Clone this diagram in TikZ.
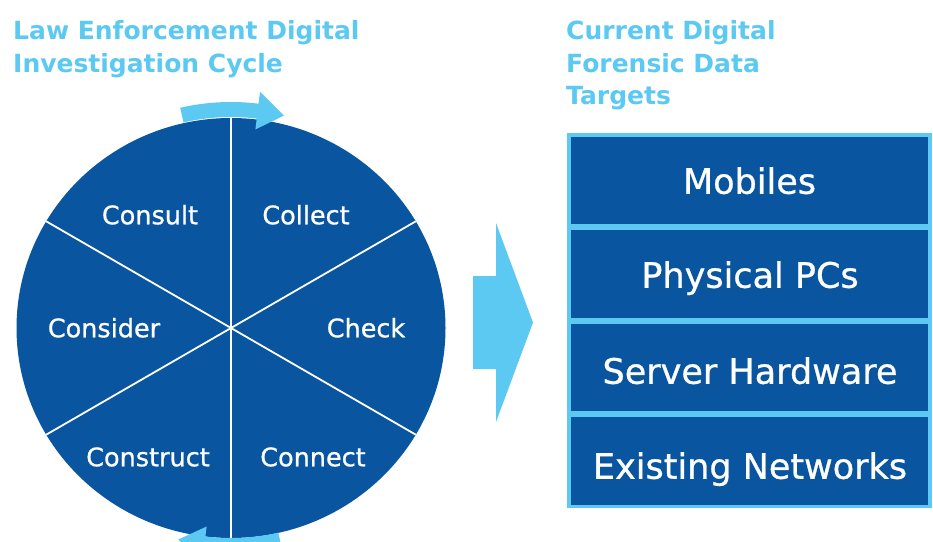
\documentclass[tikz,border=0pt]{standalone}
\usepackage{fontspec}
\setmainfont{DejaVu Sans}
\newfontfamily\medfont[FakeBold=0.8]{DejaVu Sans}
\usetikzlibrary{shapes.geometric}
\definecolor{db}{HTML}{0A55A0}
\definecolor{lb}{HTML}{5CC9F2}
\tikzset{
  titletxt/.style={text=lb, font=\fontsize{25}{30}\selectfont\bfseries, inner sep=0pt, anchor=base west},
  cyclbl/.style={text=white, font=\medfont\fontsize{25.5}{30}\selectfont, inner sep=0pt, text height=18.5pt, text depth=0pt},
  boxlbl/.style={text=white, font=\medfont\fontsize{35}{40}\selectfont, inner sep=0pt, text height=25.5pt, text depth=0pt},
  rowbox/.style={fill=db, inner sep=0pt, outer sep=0pt, minimum width=357pt, minimum height=87.5pt},
  divider/.style={white, line width=1.8pt},
  cycarrow/.style={fill=lb}
}
\begin{document}
\begin{tikzpicture}[x=1pt,y=1pt]
\useasboundingbox (0,0) rectangle (933,-541);
\begin{scope}
\clip (0,0) rectangle (933,-541);
% titles
\node[titletxt] (t1a) at (13,-39) {Law Enforcement Digital};
\node[titletxt] (t1b) at (13,-72) {Investigation Cycle};
\node[titletxt] (t2a) at (566,-39) {Current Digital};
\node[titletxt] (t2b) at (566,-72) {Forensic Data};
\node[titletxt] (t2c) at (566,-104) {Targets};
% cycle
\node[ellipse, fill=db, inner sep=0pt, outer sep=0pt, minimum width=429pt, minimum height=420pt] (cyc) at (231,-328) {};
\foreach \a in {90,30,-30,-90,-150,150}
  \draw[divider] (cyc.center) -- (cyc.\a);
% cycle arrows
\fill[cycarrow] ([shift={(cyc.center)}]103:226pt) arc[start angle=103, end angle=83, radius=226pt]
  -- ([shift={(cyc.center)}]83:238pt) -- ([shift={(cyc.center)}]76:219pt)
  -- ([shift={(cyc.center)}]83:200pt) -- ([shift={(cyc.center)}]83:211pt)
  arc[start angle=83, end angle=103, radius=211pt] -- cycle;
\fill[cycarrow] ([shift={(cyc.center)}]-77:225pt) arc[start angle=-77, end angle=-97, radius=225pt]
  -- ([shift={(cyc.center)}]-97:237pt) -- ([shift={(cyc.center)}]-104:218pt)
  -- ([shift={(cyc.center)}]-97:200pt) -- ([shift={(cyc.center)}]-97:210pt)
  arc[start angle=-97, end angle=-77, radius=210pt] -- cycle;
% cycle labels
\node[cyclbl] (consult) at (150,-215) {Consult};
\node[cyclbl] (collect) at (306,-215) {Collect};
\node[cyclbl] (consider) at (104,-328) {Consider};
\node[cyclbl] (check) at (366,-328) {Check};
\node[cyclbl] (construct) at (148,-457) {Construct};
\node[cyclbl] (connect) at (313,-457) {Connect};
% big arrow
\fill[lb] (473,-276) -- (496,-276) -- (496,-223) -- (533,-322.5) -- (496,-422) -- (496,-369) -- (473,-369) -- cycle;
% target box
\fill[lb] (567,-133) rectangle (932,-508);
\node[rowbox] (r1) at (749.5,-180.5) {};
\node[rowbox] (r2) at (749.5,-274) {};
\node[rowbox] (r3) at (749.5,-367.5) {};
\node[rowbox] (r4) at (749.5,-461) {};
\node[boxlbl] (mob) at (749.5,-181) {Mobiles};
\node[boxlbl] (pcs) at (750,-275) {Physical PCs};
\node[boxlbl] (srv) at (750,-371) {Server Hardware};
\node[boxlbl] (net) at (750,-466) {Existing Networks};
\end{scope}
\end{tikzpicture}
\end{document}
